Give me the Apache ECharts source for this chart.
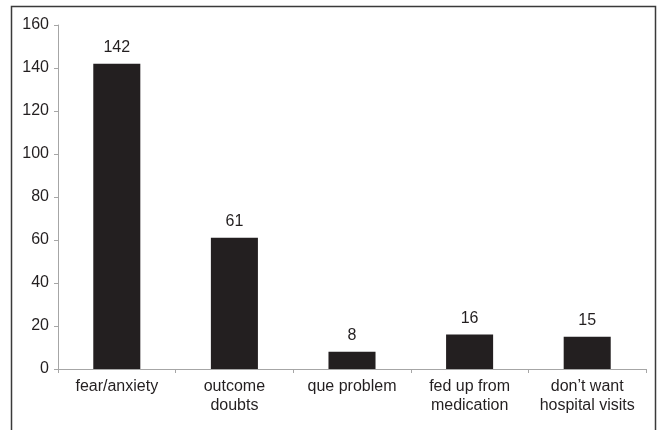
<!DOCTYPE html>
<html>
<head>
<meta charset="utf-8">
<script src="https://cdn.jsdelivr.net/npm/echarts@6/dist/echarts.min.js"></script>
<style>
  html, body { margin: 0; padding: 0; background: #fff; }
  #chart { width: 657px; height: 430px; }
</style>
</head>
<body>
<div id="chart"></div>
<script>
// Reasons reported, with counts per reason
const categories = ['fear/anxiety', 'outcome\ndoubts', 'que problem', 'fed up from\nmedication', 'don\u2019t want\nhospital visits'];
const counts = [142, 61, 8, 16, 15];
const yTicks = { min: 0, max: 160, interval: 20 };

const textColor = '#231f20';
const axisColor = '#a6a6a6';
const font = 'Liberation Sans, Arial, sans-serif';

const chart = echarts.init(document.getElementById('chart'), null, { renderer: 'canvas' });
chart.setOption({
  animation: false,
  backgroundColor: '#fff',
  grid: { left: 58, right: 11, top: 25, bottom: 61, containLabel: false },
  graphic: [{
    type: 'rect',
    silent: true,
    shape: { x: 11.5, y: 6.5, width: 644, height: 440 },
    style: { fill: 'none', stroke: '#3a3a3a', lineWidth: 1.5 }
  }],
  xAxis: {
    type: 'category',
    data: categories,
    axisLine: { show: true, lineStyle: { color: axisColor, width: 1 } },
    axisTick: { show: true, length: 4, lineStyle: { color: axisColor } },
    axisLabel: { color: textColor, fontSize: 16, fontFamily: font, margin: 8, lineHeight: 19, interval: 0 },
    splitLine: { show: false }
  },
  yAxis: {
    type: 'value',
    min: yTicks.min,
    max: yTicks.max,
    interval: yTicks.interval,
    axisLine: { show: true, lineStyle: { color: axisColor, width: 1 } },
    axisTick: { show: true, length: 4, lineStyle: { color: axisColor } },
    axisLabel: { color: textColor, fontSize: 16, fontFamily: font, margin: 9 },
    splitLine: { show: false }
  },
  series: [{
    type: 'bar',
    data: counts,
    barWidth: '40%',
    itemStyle: { color: '#231f20' },
    label: {
      show: true,
      position: 'top',
      distance: 8,
      color: textColor,
      fontSize: 16,
      fontFamily: font
    }
  }]
});
</script>
</body>
</html>
